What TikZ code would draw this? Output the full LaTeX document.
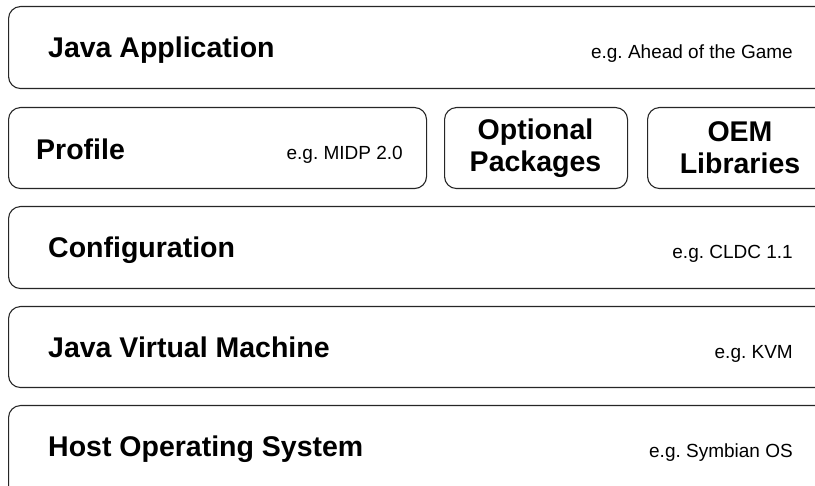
\documentclass[tikz,border=0pt]{standalone}
\usepackage{fontspec}
\setmainfont{Liberation Sans}
\frenchspacing
\begin{document}
\begin{tikzpicture}[x=1pt,y=-1pt,
  layer/.style={draw=black!85, line width=1.1pt, rounded corners=12pt, fill=white, inner sep=0pt, anchor=north west},
  bigtext/.style={font=\fontsize{28.5}{32}\selectfont\bfseries, inner sep=0pt},
  smalltext/.style={font=\fontsize{19}{22}\selectfont, inner sep=0pt, anchor=base east}]
\useasboundingbox (0,0) rectangle (815,486);
\clip (0,0) rectangle (815,486);
% layers
\node[layer, minimum width=840pt, minimum height=82pt] (app) at (8,6) {};
\node[layer, minimum width=418pt, minimum height=81pt] (profile) at (8,107) {};
\node[layer, minimum width=183pt, minimum height=81pt] (optional) at (444,107) {};
\node[layer, minimum width=200pt, minimum height=81pt] (oem) at (647,107) {};
\node[layer, minimum width=840pt, minimum height=82pt] (config) at (8,206) {};
\node[layer, minimum width=840pt, minimum height=81pt] (jvm) at (8,306) {};
\node[layer, minimum width=840pt, minimum height=100pt] (host) at (8,405) {};
% titles
\node[bigtext, anchor=base west] (appt) at (48,58) {Java Application};
\node[smalltext] (appe) at (793,59) {e.g.\ Ahead of the Game};
\node[bigtext, anchor=base west] (proft) at (36,160) {Profile};
\node[smalltext] (profe) at (403,160) {e.g.\ MIDP 2.0};
\node[bigtext, align=center] (optt) at (535.5,148) {Optional\\Packages};
\node[bigtext, align=center] (oemt) at (740,148) {OEM\\Libraries};
\node[bigtext, anchor=base west] (conft) at (48,258) {Configuration};
\node[smalltext] (confe) at (793,259) {e.g.\ CLDC 1.1};
\node[bigtext, anchor=base west] (jvmt) at (48,358) {Java Virtual Machine};
\node[smalltext] (jvme) at (793,359) {e.g.\ KVM};
\node[bigtext, anchor=base west] (hostt) at (48,457) {Host Operating System};
\node[smalltext] (hoste) at (793,458) {e.g.\ Symbian OS};
\end{tikzpicture}
\end{document}
